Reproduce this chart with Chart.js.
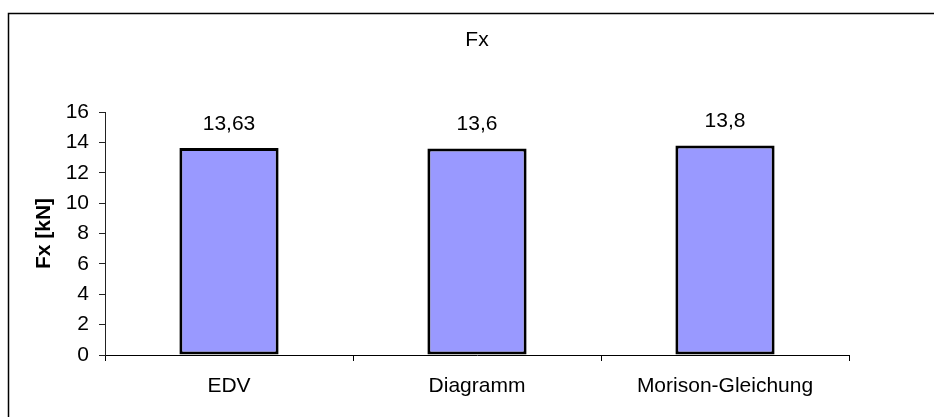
<!DOCTYPE html>
<html lang="de">
<head>
<meta charset="utf-8">
<title>Fx</title>
<script src="https://cdn.jsdelivr.net/npm/chart.js@4/dist/chart.umd.min.js"></script>
<style>
  html, body { margin: 0; padding: 0; background: #ffffff; }
  #wrap { position: relative; width: 934px; height: 417px; }
</style>
</head>
<body>
<div id="wrap"><canvas id="chart" width="934" height="417"></canvas></div>
<script>
// Kategorien und Messwerte
const categories = ['EDV', 'Diagramm', 'Morison-Gleichung'];
const fxValues = [13.63, 13.6, 13.8];
const yTicks = [0, 2, 4, 6, 8, 10, 12, 14, 16];

const FONT = '"Liberation Sans", Arial, Helvetica, sans-serif';
const INK = '#000000';

// Dezimalkomma wie in der deutschen Schreibweise
const fmt = v => String(v).replace('.', ',');

// Rahmen um das gesamte Diagramm
const framePlugin = {
  id: 'frame',
  beforeDraw(chart) {
    const ctx = chart.ctx;
    ctx.save();
    ctx.fillStyle = '#ffffff';
    ctx.fillRect(0, 0, chart.width, chart.height);
    ctx.strokeStyle = INK;
    ctx.lineWidth = 1.5;
    ctx.strokeRect(8.5, 13.5, chart.width + 20, chart.height + 20);
    ctx.restore();
  }
};

// Wertbeschriftung über jedem Balken
const valueLabels = {
  id: 'valueLabels',
  afterDatasetsDraw(chart) {
    const ctx = chart.ctx;
    const meta = chart.getDatasetMeta(0);
    ctx.save();
    ctx.font = '21px ' + FONT;
    ctx.fillStyle = INK;
    ctx.textAlign = 'center';
    ctx.textBaseline = 'middle';
    meta.data.forEach((bar, i) => {
      ctx.fillText(fmt(chart.data.datasets[0].data[i]), bar.x, bar.y - 24);
    });
    ctx.restore();
  }
};

new Chart(document.getElementById('chart'), {
  type: 'bar',
  data: {
    labels: categories,
    datasets: [{
      label: 'Fx',
      data: fxValues,
      backgroundColor: '#9999FF',
      borderColor: INK,
      borderWidth: 3,
      borderSkipped: false,
      categoryPercentage: 1.0,
      barPercentage: 0.4
    }]
  },
  options: {
    responsive: false,
    animation: false,
    devicePixelRatio: 1,
    layout: { padding: { left: 0, right: 85, top: 0, bottom: 0 } },
    plugins: {
      legend: { display: false },
      tooltip: { enabled: false },
      title: {
        display: true,
        fullSize: false,
        text: 'Fx',
        color: INK,
        font: { family: FONT, size: 21, weight: 'normal' },
        padding: { top: 27.4, bottom: 59.4 }
      }
    },
    scales: {
      x: {
        offset: true,
        z: 1,
        grid: {
          offset: true,
          drawOnChartArea: false,
          drawTicks: true,
          tickLength: 6,
          color: INK,
          lineWidth: 1
        },
        border: { display: true, color: INK, width: 1 },
        ticks: {
          color: INK,
          font: { family: FONT, size: 21 },
          padding: 12.4,
          maxRotation: 0,
          autoSkip: false
        },
        afterFit(scale) { scale.height = 62; }
      },
      y: {
        min: 0,
        max: 16,
        z: 1,
        afterBuildTicks(scale) { scale.ticks = yTicks.map(v => ({ value: v })); },
        grid: {
          drawOnChartArea: false,
          drawTicks: true,
          tickLength: 6,
          color: '#222222',
          lineWidth: 1
        },
        border: { display: true, color: '#222222', width: 1 },
        ticks: {
          color: INK,
          font: { family: FONT, size: 21 },
          padding: 10,
          callback: v => fmt(v)
        },
        title: {
          display: true,
          text: 'Fx [kN]',
          color: INK,
          font: { family: FONT, size: 21, weight: 'bold' },
          padding: { top: 31.4, bottom: 0 }
        },
        afterFit(scale) { scale.width = 105; }
      }
    }
  },
  plugins: [framePlugin, valueLabels]
});
</script>
</body>
</html>
